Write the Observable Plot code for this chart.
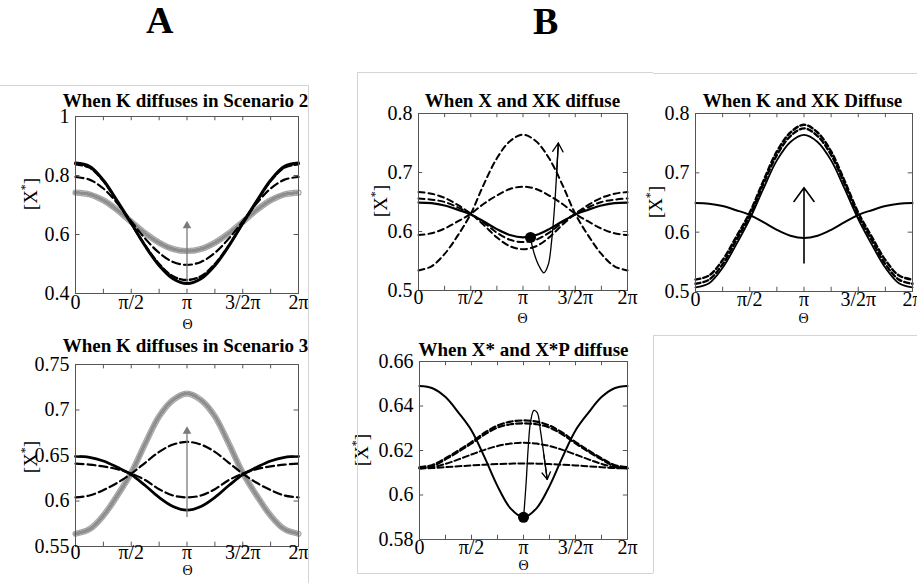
<!DOCTYPE html>
<html>
<head>
<meta charset="utf-8">
<script src="https://cdn.jsdelivr.net/npm/d3@7"></script>
<script src="https://cdn.jsdelivr.net/npm/@observablehq/plot@0.6"></script>
<style>
  body { margin: 0; background: #fff; }
  #fig { position: relative; width: 917px; height: 583px; overflow: hidden; background: #fff;
         font-family: "Liberation Serif", "Times New Roman", serif; }
  #fig svg { position: absolute; overflow: visible; }
  .letter { position: absolute; font-weight: bold; font-size: 38px; line-height: 1; }
  .edge { position: absolute; background: #d4d4d4; }
</style>
</head>
<body>
<div id="fig"></div>
<script>
// Θ sampled in multiples of π
const theta = [0, 0.125, 0.25, 0.375, 0.5, 0.625, 0.75, 0.875, 1, 1.125, 1.25, 1.375, 1.5, 1.625, 1.75, 1.875, 2];
const xTicks = [0, 0.5, 1, 1.5, 2];
const xTickLabels = ["0", "π/2", "π", "3/2π", "2π"];
const xMinorTicks = [0.25, 0.5, 0.75, 1, 1.25, 1.5, 1.75];

// steady state without diffusion
const baseline = [0.649, 0.648, 0.644, 0.637, 0.629, 0.617, 0.604, 0.594, 0.590, 0.594, 0.604, 0.617, 0.629, 0.637, 0.644, 0.648, 0.649];

// A: K diffuses, scenario 2
const s2Solid    = [0.842, 0.831, 0.784, 0.713, 0.638, 0.561, 0.495, 0.450, 0.434, 0.450, 0.495, 0.561, 0.638, 0.713, 0.784, 0.831, 0.842];
const s2DashNear = [0.838, 0.827, 0.781, 0.711, 0.637, 0.563, 0.500, 0.458, 0.446, 0.458, 0.500, 0.563, 0.637, 0.711, 0.781, 0.827, 0.838];
const s2DashMid  = [0.795, 0.786, 0.756, 0.706, 0.645, 0.586, 0.538, 0.507, 0.497, 0.507, 0.538, 0.586, 0.645, 0.706, 0.756, 0.786, 0.795];
const s2Circles  = [0.742, 0.736, 0.716, 0.683, 0.643, 0.604, 0.572, 0.551, 0.544, 0.551, 0.572, 0.604, 0.643, 0.683, 0.716, 0.736, 0.742];
const s2Arrow = {t: 1, from: 0.437, to: 0.640};

// A: K diffuses, scenario 3
const s3Dash1   = [0.641, 0.640, 0.638, 0.635, 0.630, 0.623, 0.613, 0.606, 0.604, 0.606, 0.613, 0.623, 0.630, 0.635, 0.638, 0.640, 0.641];
const s3Dash2   = [0.604, 0.606, 0.612, 0.620, 0.630, 0.642, 0.654, 0.662, 0.665, 0.662, 0.654, 0.642, 0.630, 0.620, 0.612, 0.606, 0.604];
const s3Circles = [0.564, 0.569, 0.584, 0.606, 0.631, 0.663, 0.693, 0.711, 0.718, 0.711, 0.693, 0.663, 0.631, 0.606, 0.584, 0.569, 0.564];
const s3Arrow = {t: 1, from: 0.582, to: 0.680};

// B: X and XK diffuse
const xk1 = [0.656, 0.654, 0.650, 0.641, 0.630, 0.615, 0.598, 0.586, 0.582, 0.586, 0.598, 0.615, 0.630, 0.641, 0.650, 0.654, 0.656];
const xk2 = [0.667, 0.664, 0.657, 0.645, 0.630, 0.611, 0.590, 0.575, 0.570, 0.575, 0.590, 0.611, 0.630, 0.645, 0.657, 0.664, 0.667];
const xk3 = [0.594, 0.597, 0.605, 0.617, 0.630, 0.647, 0.661, 0.672, 0.676, 0.672, 0.661, 0.647, 0.630, 0.617, 0.605, 0.597, 0.594];
const xk4 = [0.534, 0.541, 0.562, 0.593, 0.630, 0.680, 0.724, 0.753, 0.764, 0.753, 0.724, 0.680, 0.630, 0.593, 0.562, 0.541, 0.534];
const xkDot = {t: 1.072, v: 0.590};
const xkLoopT = [1.072, 1.110, 1.152, 1.200, 1.242, 1.274, 1.302, 1.322, 1.338];
const xkLoopV = [0.588, 0.561, 0.542, 0.530, 0.544, 0.584, 0.642, 0.699, 0.750];

// B: K and XK diffuse
const kxk1 = [0.520, 0.527, 0.553, 0.592, 0.633, 0.686, 0.736, 0.768, 0.781, 0.768, 0.736, 0.686, 0.633, 0.592, 0.553, 0.527, 0.520];
const kxk2 = [0.513, 0.520, 0.546, 0.586, 0.628, 0.681, 0.730, 0.762, 0.775, 0.762, 0.730, 0.681, 0.628, 0.586, 0.546, 0.520, 0.513];
const kxk3 = [0.507, 0.514, 0.540, 0.579, 0.622, 0.673, 0.721, 0.752, 0.764, 0.752, 0.721, 0.673, 0.622, 0.579, 0.540, 0.514, 0.507];
const kxkArrow = {t: 1, from: 0.548, to: 0.675};

// B: X* and X*P diffuse
const xp1 = [0.6120, 0.6121, 0.6125, 0.6129, 0.6133, 0.6136, 0.6139, 0.6141, 0.6142, 0.6141, 0.6139, 0.6136, 0.6133, 0.6129, 0.6125, 0.6121, 0.6120];
const xp2 = [0.6120, 0.6125, 0.6140, 0.6160, 0.6182, 0.6203, 0.6220, 0.6231, 0.6235, 0.6231, 0.6220, 0.6203, 0.6182, 0.6160, 0.6140, 0.6125, 0.6120];
const xp3 = [0.6120, 0.6130, 0.6160, 0.6195, 0.6232, 0.6272, 0.6303, 0.6318, 0.6322, 0.6318, 0.6303, 0.6272, 0.6232, 0.6195, 0.6160, 0.6130, 0.6120];
const xp4 = [0.6125, 0.6135, 0.6165, 0.6200, 0.6238, 0.6280, 0.6312, 0.6330, 0.6335, 0.6330, 0.6312, 0.6280, 0.6238, 0.6200, 0.6165, 0.6135, 0.6125];
const xpDot = {t: 1.0, v: 0.590};
const xpLoopT = [1.003, 1.026, 1.045, 1.068, 1.100, 1.132, 1.164, 1.196, 1.228];
const xpLoopV = [0.591, 0.606, 0.621, 0.633, 0.638, 0.637, 0.6286, 0.618, 0.607];

const series = (vals) => theta.map((t, i) => ({t, v: vals[i]}));
const path = (ts, vs) => ts.map((t, i) => ({t, v: vs[i]}));

const fig = document.getElementById("fig");
const ink = "#000";
const grey = "#7a7a7a";
const serifBold = "'Liberation Serif', 'Times New Roman', serif";

// pick a regular-weight serif face with Times metrics ("0.75" ≈ 1.75em); else a condensed serif, scaled
const {serif, fs} = (() => {
  const ctx = document.createElement("canvas").getContext("2d");
  const width = (fam) => { ctx.font = `400 40px ${fam}`; return ctx.measureText("0.75").width; };
  for (const fam of ["Liberation Serif", "Times New Roman", "Tinos", "Nimbus Roman", "Nimbus Roman No9 L", "FreeSerif", "Times"]) {
    const w = width(`"${fam}", monospace`);
    if (w > 66 && w < 74) return {serif: `'${fam}', serif`, fs: 1};
  }
  return {serif: "'DejaVu Serif Condensed', 'DejaVu Serif', serif", fs: 0.86};
})();

function curve(vals, opts) {
  return Plot.line(series(vals), {x: "t", y: "v", curve: "catmull-rom", stroke: ink, ...opts});
}
// densely packed open-circle markers rendered as a textured grey band
function circleBand(vals) {
  const d = series(vals);
  return [
    Plot.line(d, {x: "t", y: "v", curve: "catmull-rom", stroke: "#a8a8a8", strokeWidth: 6.2}),
    Plot.line(d, {x: "t", y: "v", curve: "catmull-rom", stroke: "#fbfbfb", strokeWidth: 3.6}),
    Plot.line(d, {x: "t", y: "v", curve: "catmull-rom", stroke: "#8e8e8e", strokeWidth: 3.8, strokeDasharray: "0.8 2.2"})
  ];
}
function greyArrow(a) {
  return [
    Plot.ruleX([a], {x: "t", y1: "from", y2: "to", stroke: grey, strokeWidth: 1.3}),
    Plot.dot([a], {x: "t", y: "to", symbol: "triangle", r: 3.2, fill: grey, stroke: "none", dy: 3})
  ];
}
function loopArrow(ts, vs, head) {
  const n = ts.length;
  return [
    Plot.line(path(ts, vs), {x: "t", y: "v", curve: "catmull-rom", stroke: ink, strokeWidth: 1.3}),
    Plot.arrow([{a: ts[n - 2], b: vs[n - 2], c: ts[n - 1], d: vs[n - 1]}],
      {x1: "a", y1: "b", x2: "c", y2: "d", stroke: ink, strokeWidth: 1.3, headLength: head, headAngle: 62})
  ];
}

function makePanel(p) {
  const [fl, ft, fr, fb] = p.frame;
  const [bl, bt, bw, bh] = p.box;
  const [y0, y1] = p.yDomain;
  const cx = (fl + fr) / 2;
  const xLen = 0.04;
  const yLen = (y1 - y0) * 0.024;
  const inner = p.yTicks.slice(1, -1);
  const svg = Plot.plot({
    width: bw, height: bh,
    marginLeft: fl - bl, marginRight: bl + bw - fr, marginTop: ft - bt, marginBottom: bt + bh - fb,
    style: {fontFamily: serif, fontSize: "20px", background: "transparent", overflow: "visible", color: "#000"},
    x: {domain: [0, 2], axis: null},
    y: {domain: p.yDomain, axis: null},
    marks: [
      ...p.marks,
      Plot.frame({stroke: "#555", strokeWidth: 1}),
      // inward ticks on all four sides
      Plot.ruleX(xMinorTicks, {y1: y0, y2: y0 + yLen, stroke: "#555"}),
      Plot.ruleX(xMinorTicks, {y1: y1 - yLen, y2: y1, stroke: "#555"}),
      Plot.ruleY(inner, {x1: 0, x2: xLen, stroke: "#555"}),
      Plot.ruleY(inner, {x1: 2 - xLen, x2: 2, stroke: "#555"}),
      // tick labels
      Plot.text(xTicks, {x: d => d, frameAnchor: "bottom", dy: p.xLabelDy, text: d => xTickLabels[xTicks.indexOf(d)],
                         fontSize: 20 * fs, fontFamily: serif, fill: ink}),
      Plot.text(p.yTicks, {y: d => d, frameAnchor: "left", dx: -6, textAnchor: "end", text: d => String(d),
                           fontSize: 20 * fs, fontFamily: serif, fill: ink}),
      Plot.text([p.title], {text: d => d, frameAnchor: "top", dx: p.titleAt[0] - cx, dy: p.titleAt[1] - ft,
                            fontWeight: "bold", fontSize: 19, fontFamily: serifBold, fill: ink}),
      Plot.text(["Θ"], {text: d => d, frameAnchor: "bottom", dx: p.thetaAt[0] - cx, dy: p.thetaAt[1] - fb,
                        fontSize: 14 * fs, fontFamily: serif, fill: ink})
    ]
  });
  svg.style.left = bl + "px";
  svg.style.top = bt + "px";
  // y-axis label [X*]
  const lab = d3.select(svg).append("g").attr("font-family", serif).attr("font-size", 19 * fs)
    .append("text")
    .attr("transform", `translate(${p.yLabelAt[0] - bl},${p.yLabelAt[1] - bt}) rotate(-90)`)
    .attr("text-anchor", "middle").attr("fill", "#000");
  lab.append("tspan").text("[X");
  lab.append("tspan").attr("dy", -8).attr("font-size", 12).text("*");
  lab.append("tspan").attr("dy", 8).text("]");
  fig.appendChild(svg);
}

makePanel({
  title: "When K diffuses in Scenario 2",
  frame: [75, 116, 298, 293], box: [0, 80, 308, 255],
  yDomain: [0.4, 1], yTicks: [0.4, 0.6, 0.8, 1],
  xLabelDy: 15, titleAt: [185, 93], thetaAt: [187, 328], yLabelAt: [37, 194],
  marks: [
    ...circleBand(s2Circles),
    curve(s2DashMid, {strokeWidth: 2.2, strokeDasharray: "8 4"}),
    curve(s2Solid, {strokeWidth: 3}),
    curve(s2DashNear, {strokeWidth: 2.4, strokeDasharray: "7 3"}),
    ...greyArrow(s2Arrow)
  ]
});

makePanel({
  title: "When K diffuses in Scenario 3",
  frame: [75, 364, 298, 546], box: [0, 330, 308, 253],
  yDomain: [0.55, 0.75], yTicks: [0.55, 0.6, 0.65, 0.7, 0.75],
  xLabelDy: 12, titleAt: [185, 338], thetaAt: [187, 574], yLabelAt: [37, 457],
  marks: [
    ...circleBand(s3Circles),
    curve(s3Dash1, {strokeWidth: 2.2, strokeDasharray: "8 4"}),
    curve(s3Dash2, {strokeWidth: 2.2, strokeDasharray: "8 4"}),
    curve(baseline, {strokeWidth: 2.8}),
    ...greyArrow(s3Arrow)
  ]
});

makePanel({
  title: "When X and XK diffuse",
  frame: [418, 113, 627, 290], box: [360, 76, 290, 254],
  yDomain: [0.5, 0.8], yTicks: [0.5, 0.6, 0.7, 0.8],
  xLabelDy: 13, titleAt: [522, 93], thetaAt: [522, 322], yLabelAt: [387, 201],
  marks: [
    curve(xk4, {strokeWidth: 2, strokeDasharray: "6 4"}),
    curve(xk3, {strokeWidth: 2, strokeDasharray: "6 4"}),
    curve(xk2, {strokeWidth: 2, strokeDasharray: "6 4"}),
    curve(xk1, {strokeWidth: 2, strokeDasharray: "6 4"}),
    curve(baseline, {strokeWidth: 2.2}),
    ...loopArrow(xkLoopT, xkLoopV, 15),
    Plot.dot([xkDot], {x: "t", y: "v", r: 5.5, fill: ink, stroke: "none"})
  ]
});

makePanel({
  title: "When K and XK Diffuse",
  frame: [695, 113, 912, 291], box: [655, 76, 262, 254],
  yDomain: [0.5, 0.8], yTicks: [0.5, 0.6, 0.7, 0.8],
  xLabelDy: 14, titleAt: [802, 93], thetaAt: [803, 322], yLabelAt: [662, 202],
  marks: [
    curve(kxk3, {strokeWidth: 1.8}),
    curve(kxk2, {strokeWidth: 2.4, strokeDasharray: "5 3"}),
    curve(kxk1, {strokeWidth: 2.4, strokeDasharray: "5 3"}),
    curve(baseline, {strokeWidth: 2}),
    Plot.arrow([kxkArrow], {x1: "t", y1: "from", x2: "t", y2: "to", stroke: ink, strokeWidth: 1.6,
                            headLength: 16, headAngle: 72})
  ]
});

makePanel({
  title: "When X* and X*P diffuse",
  frame: [419, 361, 627, 539], box: [360, 325, 290, 250],
  yDomain: [0.58, 0.66], yTicks: [0.58, 0.6, 0.62, 0.64, 0.66],
  xLabelDy: 14, titleAt: [523, 342], thetaAt: [523, 569], yLabelAt: [368, 450],
  marks: [
    curve(xp1, {strokeWidth: 2, strokeDasharray: "6 3"}),
    curve(xp2, {strokeWidth: 2, strokeDasharray: "6 3"}),
    curve(xp3, {strokeWidth: 2.2, strokeDasharray: "6 3"}),
    curve(xp4, {strokeWidth: 2.2, strokeDasharray: "6 3"}),
    curve(baseline, {strokeWidth: 2}),
    ...loopArrow(xpLoopT, xpLoopV, 15),
    Plot.dot([xpDot], {x: "t", y: "v", r: 5.5, fill: ink, stroke: "none"})
  ]
});

// panel letters
for (const [txt, x, y] of [["A", 146, 1], ["B", 533, 2]]) {
  const el = document.createElement("div");
  el.className = "letter";
  el.textContent = txt;
  el.style.left = x + "px";
  el.style.top = y + "px";
  fig.appendChild(el);
}

// light page edges between the figure groups
for (const [l, t, w, h] of [
  [0, 85, 308, 1], [308, 85, 1, 498],
  [357, 72, 296, 1], [357, 72, 1, 501], [357, 573, 296, 1], [653, 335, 1, 238],
  [653, 73, 264, 1], [653, 335, 264, 1]
]) {
  const el = document.createElement("div");
  el.className = "edge";
  Object.assign(el.style, {left: l + "px", top: t + "px", width: w + "px", height: h + "px"});
  fig.appendChild(el);
}
</script>
</body>
</html>
